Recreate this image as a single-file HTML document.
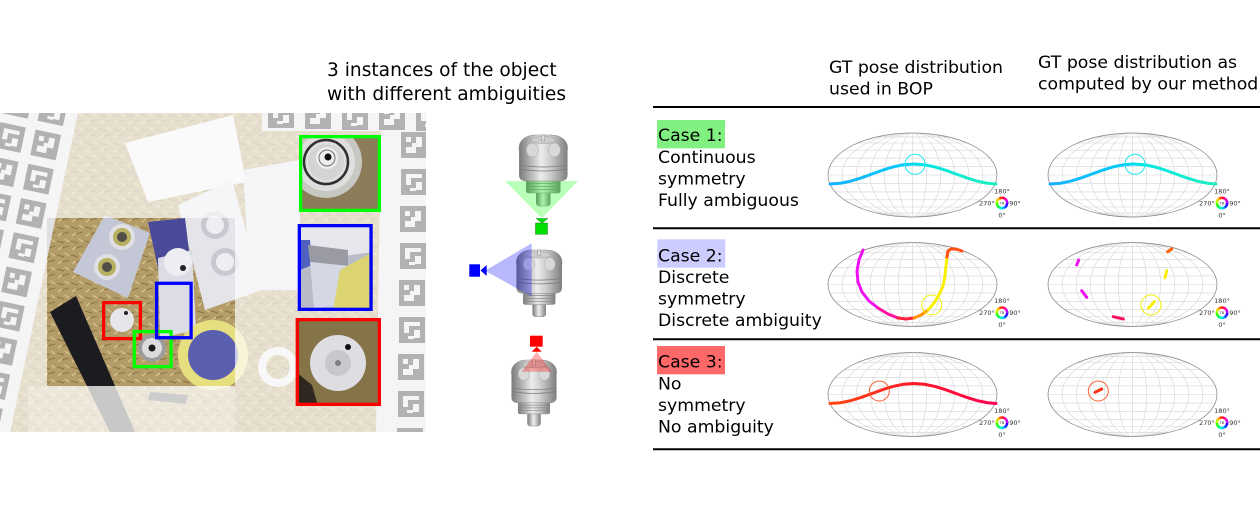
<!DOCTYPE html>
<html><head><meta charset="utf-8">
<style>
html,body{margin:0;padding:0;background:#fff;}
body{width:1260px;height:513px;overflow:hidden;position:relative;}
svg{position:absolute;left:0;top:0;}
text{font-family:"DejaVu Sans","Liberation Sans",sans-serif;}
</style></head><body>
<svg width="1260" height="513" viewBox="0 0 1260 513" xmlns="http://www.w3.org/2000/svg">
<defs>
  <g id="mk">
    <rect width="26" height="26" fill="#111"/>
    <rect x="5" y="5" width="5" height="5" fill="#e0e0e2"/>
    <rect x="15" y="5" width="6" height="10" fill="#e0e0e2"/>
    <rect x="5" y="15" width="10" height="6" fill="#e0e0e2"/>
    <rect x="11" y="11" width="4" height="4" fill="#e0e0e2"/>
  </g>
  <g id="mk2">
    <rect width="26" height="26" fill="#111"/>
    <rect x="5" y="5" width="16" height="4" fill="#e0e0e2"/>
    <rect x="5" y="9" width="5" height="7" fill="#e0e0e2"/>
    <rect x="15" y="13" width="6" height="8" fill="#e0e0e2"/>
    <rect x="9" y="19" width="6" height="3" fill="#e0e0e2"/>
  </g>
  <pattern id="wood" width="14" height="14" patternUnits="userSpaceOnUse">
    <rect width="14" height="14" fill="#b49c68"/>
    <path d="M1 3 L8 5 M6 10 L13 8" stroke="#8a7444" stroke-width="1.1"/>
    <path d="M2 12 L6 9 M9 1 L13 4" stroke="#d6c48e" stroke-width="1.4"/>
  </pattern>
  <linearGradient id="mg" x1="0" x2="1" y1="0" y2="0">
    <stop offset="0" stop-color="#7a7a7a"/>
    <stop offset="0.25" stop-color="#b8b8b8"/>
    <stop offset="0.45" stop-color="#ececec"/>
    <stop offset="0.62" stop-color="#d2d2d2"/>
    <stop offset="1" stop-color="#7e7e7e"/>
  </linearGradient>
  <linearGradient id="g1" gradientUnits="userSpaceOnUse" x1="829" x2="997" y1="0" y2="0">
    <stop offset="0" stop-color="#18b0ff"/>
    <stop offset="0.45" stop-color="#00ccf8"/>
    <stop offset="0.55" stop-color="#00e6e6"/>
    <stop offset="1" stop-color="#20f0c0"/>
  </linearGradient>
  <linearGradient id="g3" gradientUnits="userSpaceOnUse" x1="829" x2="997" y1="0" y2="0">
    <stop offset="0" stop-color="#ff4a10"/>
    <stop offset="0.5" stop-color="#ff1828"/>
    <stop offset="1" stop-color="#ff0050"/>
  </linearGradient>
  <clipPath id="photo"><rect x="0" y="113" width="426" height="319"/></clipPath>
  <clipPath id="cg"><rect x="299" y="135" width="82" height="77"/></clipPath>
  <clipPath id="cb"><rect x="297.7" y="224" width="75" height="87"/></clipPath>
  <clipPath id="cr"><rect x="295.7" y="318" width="85.3" height="88"/></clipPath>

  <g id="mw">
    <ellipse cx="0" cy="0" rx="84.5" ry="42" fill="#fff"/>
    <g fill="none" stroke="#d4d4d4" stroke-width="0.6">
      <ellipse cx="0" cy="0" rx="14.08" ry="42"/>
      <ellipse cx="0" cy="0" rx="28.17" ry="42"/>
      <ellipse cx="0" cy="0" rx="42.25" ry="42"/>
      <ellipse cx="0" cy="0" rx="56.33" ry="42"/>
      <ellipse cx="0" cy="0" rx="70.42" ry="42"/>
      <path d="M0 -42V42 M-84.5 0H84.5 M-82.71 8.6H82.71 M-82.71 -8.6H82.71 M-77.3 16.97H77.3 M-77.3 -16.97H77.3 M-68.1 24.86H68.1 M-68.1 -24.86H68.1 M-54.71 32.01H54.71 M-54.71 -32.01H54.71 M-35.8 38.04H35.8 M-35.8 -38.04H35.8"/>
    </g>
    <ellipse cx="0" cy="0" rx="84.5" ry="42" fill="none" stroke="#8c8c8c" stroke-width="0.8"/>
  </g>

  <g id="leg">
    <g fill="none" stroke-width="2.6" stroke-dasharray="2.8 29.87">
      <circle r="5.2" stroke="hsl(345,100%,50%)" transform="rotate(-90)"/>
      <circle r="5.2" stroke="hsl(315,100%,50%)" transform="rotate(-60)"/>
      <circle r="5.2" stroke="hsl(285,100%,50%)" transform="rotate(-30)"/>
      <circle r="5.2" stroke="hsl(255,100%,50%)" transform="rotate(0)"/>
      <circle r="5.2" stroke="hsl(225,100%,50%)" transform="rotate(30)"/>
      <circle r="5.2" stroke="hsl(195,100%,50%)" transform="rotate(60)"/>
      <circle r="5.2" stroke="hsl(165,100%,50%)" transform="rotate(90)"/>
      <circle r="5.2" stroke="hsl(135,100%,50%)" transform="rotate(120)"/>
      <circle r="5.2" stroke="hsl(105,100%,50%)" transform="rotate(150)"/>
      <circle r="5.2" stroke="hsl(75,100%,50%)" transform="rotate(180)"/>
      <circle r="5.2" stroke="hsl(45,100%,50%)" transform="rotate(210)"/>
      <circle r="5.2" stroke="hsl(15,100%,50%)" transform="rotate(240)"/>
    </g>
    <text x="0" y="1.3" font-size="3.6" text-anchor="middle" fill="#333">TB</text>
    <text x="0" y="-9.7" font-size="6.5" text-anchor="middle" fill="#333">180°</text>
    <text x="0" y="14.3" font-size="6.5" text-anchor="middle" fill="#333">0°</text>
    <text x="-7.2" y="2.3" font-size="6.5" text-anchor="end" fill="#333">270°</text>
    <text x="7.2" y="2.3" font-size="6.5" text-anchor="start" fill="#333">90°</text>
  </g>

  <g id="obj">
    <rect x="-7" y="56" width="14" height="15" rx="3" fill="url(#mg)" stroke="#888" stroke-width="0.5"/>
    <rect x="-17" y="44" width="34" height="14" rx="2" fill="url(#mg)" stroke="#888" stroke-width="0.5"/>
    <path d="M-17 48.5H17M-17 51.5H17M-17 54.5H17" stroke="#8a8a8a" stroke-width="0.8"/>
    <path d="M-24 16 C-26 5 -16 0 -8 0 L8 0 C16 0 26 5 24 16 L24 40 C24 45 20 46 16 46 L-16 46 C-20 46 -24 45 -24 40 Z" fill="url(#mg)" stroke="#8a8a8a" stroke-width="0.6"/>
    <path d="M-24 30 Q0 34 24 30 M-24 34 Q0 38 24 34" stroke="#7a7a7a" fill="none" stroke-width="0.8"/>
    <ellipse cx="-11" cy="15" rx="6" ry="7" fill="#d8d8d8" stroke="#aaa" stroke-width="0.5"/>
    <ellipse cx="11" cy="15" rx="6" ry="7" fill="#d8d8d8" stroke="#aaa" stroke-width="0.5"/>
    <ellipse cx="0" cy="5" rx="12" ry="3.5" fill="#cccccc" stroke="#999" stroke-width="0.5"/>
    <rect x="-1.5" y="0" width="3" height="6" fill="#e0e0e0" stroke="#888" stroke-width="0.5"/>
  </g>
</defs>

<!-- ================= PHOTO ================= -->
<g clip-path="url(#photo)">
  <rect x="0" y="113" width="426" height="319" fill="url(#wood)"/>
  <!-- left marker sheet -->
  <g transform="translate(78,113) rotate(12)">
    <rect x="-130" y="-30" width="130" height="400" fill="#e0e0e2"/>
    <use href="#mk" x="-74" y="-10"/><use href="#mk2" x="-38" y="-10"/>
    <use href="#mk2" x="-74" y="25"/><use href="#mk" x="-38" y="25"/>
    <use href="#mk" x="-74" y="60"/><use href="#mk2" x="-38" y="60"/>
    <use href="#mk2" x="-74" y="95"/><use href="#mk" x="-38" y="95"/>
    <use href="#mk" x="-74" y="130"/><use href="#mk2" x="-38" y="130"/>
    <use href="#mk2" x="-74" y="165"/><use href="#mk" x="-38" y="165"/>
    <use href="#mk" x="-74" y="200"/><use href="#mk2" x="-38" y="200"/>
    <use href="#mk2" x="-74" y="235"/><use href="#mk" x="-38" y="235"/>
    <use href="#mk" x="-74" y="270"/><use href="#mk2" x="-38" y="270"/>
    <use href="#mk2" x="-74" y="305"/><use href="#mk" x="-38" y="305"/>
  </g>
  <!-- right sheet -->
  <polygon points="381,128 426,128 426,432 376,432" fill="#e0e0e2"/>
  <use href="#mk" x="401" y="132"/><use href="#mk2" x="401" y="169"/>
  <use href="#mk" x="400" y="206"/><use href="#mk2" x="400" y="243"/>
  <use href="#mk" x="399" y="280"/><use href="#mk2" x="399" y="317"/>
  <use href="#mk" x="398" y="354"/><use href="#mk2" x="398" y="391"/>
  <use href="#mk" x="397" y="428"/>
  <!-- top strip -->
  <rect x="262" y="113" width="164" height="18" fill="#e0e0e2"/>
  <use href="#mk2" x="268" y="102"/><use href="#mk" x="305" y="103"/>
  <use href="#mk2" x="342" y="104"/><use href="#mk" x="379" y="104"/>
  <use href="#mk2" x="416" y="105"/>
  <!-- objects -->
  <polygon points="125,143 233,115 246,182 148,202" fill="#eeeef0"/>
  <polygon points="178,205 232,180 262,290 205,310" fill="#e4e4ea"/>
  <circle cx="215" cy="225" r="14" fill="#c8c8d0"/><circle cx="215" cy="225" r="9" fill="#eeeef2"/>
  <circle cx="225" cy="262" r="14" fill="#c8c8d0"/><circle cx="225" cy="262" r="9" fill="#eeeef2"/>
  <polygon points="243,170 300,160 300,290 250,290" fill="#e0e0e6"/>
  <polygon points="148,222 185,218 195,300 165,300" fill="#4a4a9a"/>
  <polygon points="73,272 105,215 150,233 128,298" fill="#c4c8d6"/>
  <circle cx="122" cy="237" r="13" fill="#e0e0e4"/><circle cx="122" cy="237" r="9" fill="#b8b060"/><circle cx="122" cy="237" r="5" fill="#505048"/>
  <circle cx="107" cy="267" r="13" fill="#e0e0e4"/><circle cx="107" cy="267" r="9" fill="#b8b060"/><circle cx="107" cy="267" r="5" fill="#505048"/>
  <polygon points="158,258 192,250 196,330 160,338" fill="#dcdce6"/>
  <circle cx="178" cy="262" r="14" fill="#eeeef2"/>
  <circle cx="183" cy="268" r="3" fill="#222"/>
  <circle cx="213" cy="355" r="30" fill="#5a5fb0" stroke="#e6df80" stroke-width="10"/>
  <circle cx="278" cy="367" r="16" fill="none" stroke="#e8e8ec" stroke-width="8"/>
  <polygon points="50,312 76,296 135,432 110,432" fill="#1c1c20"/>
  <circle cx="122" cy="320" r="12" fill="#e6e6ea"/><circle cx="126" cy="313" r="2" fill="#222"/>
  <circle cx="152" cy="348" r="14" fill="#9c9c9c"/><circle cx="152" cy="348" r="10" fill="#dcdcdc"/><circle cx="152" cy="348" r="3.5" fill="#1a1a1a"/>
  <polygon points="150,392 188,395 186,404 148,400" fill="#333"/>
</g>
<path d="M0 113 H426 V432 H0 Z M47 218 V386 H235 V218 Z" fill="#fff" fill-opacity="0.68" fill-rule="evenodd"/>
<rect x="28" y="386" width="207" height="46" fill="#fff" fill-opacity="0.25"/>

<!-- scene boxes -->
<g fill="none" stroke-width="3.3">
  <rect x="103.6" y="302.6" width="36.8" height="36" stroke="#ff0000"/>
  <rect x="134.3" y="331.6" width="36.8" height="35.1" stroke="#00ff00"/>
  <rect x="156.6" y="283.3" width="34.5" height="54.4" stroke="#0000ff"/>
</g>

<!-- crops -->
<g clip-path="url(#cg)">
  <rect x="299" y="135" width="82" height="77" fill="#8c7c5a"/>
  <circle cx="326" cy="162" r="36" fill="#c8c8c2"/>
  <circle cx="326" cy="162" r="29" fill="#dedede"/>
  <circle cx="326" cy="162" r="22" fill="none" stroke="#303030" stroke-width="2.5"/>
  <circle cx="326" cy="162" r="18" fill="#d4d4d4"/>
  <circle cx="327" cy="158" r="11" fill="#eeeeee"/>
  <circle cx="327" cy="158" r="8" fill="none" stroke="#707070" stroke-width="1"/>
  <circle cx="328" cy="157" r="3.5" fill="#101010"/>
</g>
<rect x="300.65" y="136.65" width="78.7" height="73.7" fill="none" stroke="#00ff00" stroke-width="3.3"/>

<g clip-path="url(#cb)">
  <rect x="297.7" y="224" width="75" height="87" fill="#b8bcc8"/>
  <polygon points="297,224 373,224 373,252 330,258 300,240" fill="#e6e6ec"/>
  <polygon points="300,240 310,240 312,265 300,270" fill="#5060c0"/>
  <polygon points="308,245 348,250 348,266 310,262" fill="#9a9aa4"/>
  <polygon points="310,262 350,266 352,305 314,308" fill="#d4d8e4"/>
  <polygon points="340,270 373,252 373,311 333,311" fill="#dcd470"/>
</g>
<rect x="299.35" y="225.65" width="71.7" height="83.7" fill="none" stroke="#0000ff" stroke-width="3.3"/>

<g clip-path="url(#cr)">
  <rect x="295.7" y="318" width="85.3" height="88" fill="#857448"/>
  <polygon points="296,372 312,385 318,406 296,406" fill="#302820"/>
  <circle cx="338" cy="363" r="28" fill="#dedee2"/>
  <circle cx="338" cy="363" r="13" fill="#c8c8cc"/>
  <circle cx="338" cy="363" r="3" fill="#808080"/>
  <circle cx="348" cy="347" r="3" fill="#111"/>
</g>
<rect x="297.35" y="319.65" width="82" height="84.7" fill="none" stroke="#ff0000" stroke-width="3.3"/>

<!-- header left -->
<text x="327" y="76.1" font-size="18.6" fill="#000">3 instances of the object</text>
<text x="327" y="100.1" font-size="18.6" fill="#000">with different ambiguities</text>

<!-- object renders -->
<use href="#obj" transform="translate(543.3,135)"/>
<polygon points="505,181 578,181 541.7,218.3" fill="#00ff00" fill-opacity="0.27"/>
<polygon points="536,218.5 548,218.5 542,223" fill="#00e000" stroke="#006600" stroke-width="0.4"/>
<rect x="535.5" y="223" width="12" height="11.3" fill="#00e000" stroke="#006600" stroke-width="0.4"/>

<use href="#obj" transform="translate(539.2,250) scale(0.94)"/>
<polygon points="531.7,243.3 531.7,296.7 485,270.7" fill="#0000ff" fill-opacity="0.28"/>
<rect x="469.3" y="264.3" width="10.7" height="12.4" fill="#0000ff"/>
<polygon points="480.5,270.5 486.7,265 486.7,276" fill="#0000ff"/>

<use href="#obj" transform="translate(534,360) scale(0.93)"/>
<polygon points="536.7,351.7 521.7,371.7 551.7,371.7" fill="#ff0000" fill-opacity="0.3"/>
<rect x="530" y="335.7" width="12.7" height="11" fill="#ff0000"/>
<polygon points="531.7,351.7 541.7,351.7 536.7,346.7" fill="#ff0000"/>

<!-- table headers -->
<text x="829" y="72.8" font-size="17.3" fill="#000">GT pose distribution</text>
<text x="829" y="94.4" font-size="17.3" fill="#000">used in BOP</text>
<text x="1038" y="67.8" font-size="17.3" fill="#000">GT pose distribution as</text>
<text x="1038" y="89.4" font-size="17.3" fill="#000">computed by our method</text>

<!-- table lines -->
<g stroke="#000" stroke-width="2">
  <line x1="653" y1="107" x2="1260" y2="107"/>
  <line x1="653" y1="228.3" x2="1260" y2="228.3"/>
  <line x1="653" y1="339.2" x2="1260" y2="339.2"/>
  <line x1="653" y1="449.2" x2="1260" y2="449.2"/>
</g>

<!-- case labels -->
<rect x="657" y="120" width="68" height="28.3" fill="#80f080"/>
<rect x="657.3" y="239.3" width="68" height="28.4" fill="#ccccff"/>
<rect x="657" y="346" width="68" height="28.3" fill="#ff6868"/>
<g font-size="17.3" fill="#000">
  <text x="658" y="141.1">Case 1:</text>
  <text x="658" y="162.9">Continuous</text>
  <text x="658" y="184.4">symmetry</text>
  <text x="658" y="205.8">Fully ambiguous</text>
  <text x="658" y="261.4">Case 2:</text>
  <text x="658" y="283.1">Discrete</text>
  <text x="658" y="304.7">symmetry</text>
  <text x="658" y="326.1">Discrete ambiguity</text>
  <text x="658" y="367.7">Case 3:</text>
  <text x="658" y="389.7">No</text>
  <text x="658" y="411.1">symmetry</text>
  <text x="658" y="432.7">No ambiguity</text>
</g>

<!-- plots -->
<use href="#mw" transform="translate(912.5,175)"/>
<use href="#mw" transform="translate(1132.5,175)"/>
<use href="#mw" transform="translate(912.5,284.5)"/>
<use href="#mw" transform="translate(1132.5,284.5)"/>
<use href="#mw" transform="translate(912.5,394.5)"/>
<use href="#mw" transform="translate(1132.5,394.5)"/>

<use href="#leg" transform="translate(1002,203)"/>
<use href="#leg" transform="translate(1222,203)"/>
<use href="#leg" transform="translate(1002,312.7)"/>
<use href="#leg" transform="translate(1222,312.7)"/>
<use href="#leg" transform="translate(1002,422.7)"/>
<use href="#leg" transform="translate(1222,422.7)"/>

<!-- row1 curves -->
<g id="c1" fill="none" stroke-width="3" stroke-linejoin="round" stroke-linecap="round">
  <polyline stroke="url(#g1)" points="830,184 840.5,183.24 851,181.07 861.5,177.83 872,174 882.5,170.17 893,166.93 903.5,164.76 914,164 924.5,164.76 935,166.93 945.5,170.17 956,174 966.5,177.83 977,181.07 987.5,183.24 996,184"/>
</g>
<circle cx="915" cy="164.3" r="10" fill="none" stroke="#20e8f0" stroke-width="1"/>
<use href="#c1" transform="translate(220,0)"/>
<circle cx="1135" cy="164.3" r="10" fill="none" stroke="#20e8f0" stroke-width="1"/>

<!-- row3 curves -->
<g fill="none" stroke-width="3" stroke-linejoin="round" stroke-linecap="round" transform="translate(0,219.5)">
  <polyline stroke="url(#g3)" points="830,184 840.5,183.24 851,181.07 861.5,177.83 872,174 882.5,170.17 893,166.93 903.5,164.76 914,164 924.5,164.76 935,166.93 945.5,170.17 956,174 966.5,177.83 977,181.07 987.5,183.24 996,184"/>
</g>
<circle cx="879.3" cy="391" r="10" fill="none" stroke="#ff5a30" stroke-width="1"/>
<line x1="1095" y1="392.3" x2="1101.7" y2="389" stroke="#ff3010" stroke-width="3" stroke-linecap="round"/>
<circle cx="1098.3" cy="391" r="10" fill="none" stroke="#ff6030" stroke-width="1"/>

<!-- row2 left -->
<g fill="none" stroke-width="3" stroke-linejoin="round" stroke-linecap="round">
  <polyline stroke="#ee10f0" points="863,250 859,260 857,271 858,282 862,292 869,301 878,308"/>
  <polyline stroke="#ff10a0" points="878,308 888,314 898,318"/>
  <polyline stroke="#ff2040" points="898,318 906,319 914,318"/>
  <polyline stroke="#ff9000" points="914,318 921,315 928,310"/>
  <polyline stroke="#f8f000" points="928,310 934,303 939,295 943,286 945,276 946,266 947,257"/>
  <polyline stroke="#ff5010" points="947,257 948,251 951,249 956,249 962,251"/>
</g>
<circle cx="931.7" cy="305" r="10" fill="none" stroke="#f0f000" stroke-width="1"/>

<!-- row2 right -->
<g fill="none" stroke-width="3" stroke-linecap="round">
  <line x1="1076.7" y1="265" x2="1078.7" y2="260" stroke="#ee10f0"/>
  <line x1="1081.7" y1="290.7" x2="1086.7" y2="297.3" stroke="#ee10f0"/>
  <line x1="1113.3" y1="316.7" x2="1123.3" y2="319" stroke="#ff1060"/>
  <line x1="1148.3" y1="308.3" x2="1154.3" y2="301.7" stroke="#f8f000"/>
  <line x1="1165" y1="277.7" x2="1166.7" y2="270.7" stroke="#f8f000"/>
  <line x1="1167.7" y1="251.7" x2="1171.7" y2="249" stroke="#ff6000"/>
</g>
<circle cx="1151" cy="305" r="10" fill="none" stroke="#f0f000" stroke-width="1"/>
</svg>
</body></html>
